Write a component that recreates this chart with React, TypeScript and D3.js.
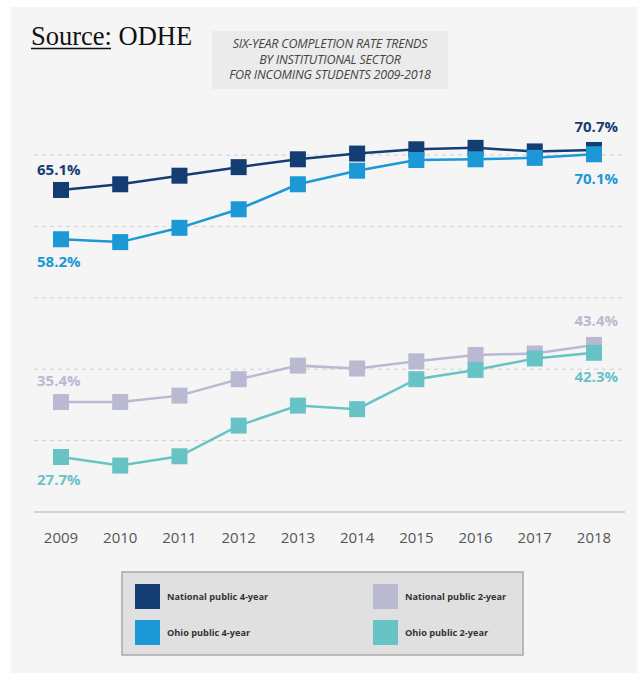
import React from "react";
import * as d3 from "d3";

const years = [2009, 2010, 2011, 2012, 2013, 2014, 2015, 2016, 2017, 2018];
const national4 = [65.1, 65.9, 67.1, 68.3, 69.4, 70.2, 70.8, 71.0, 70.5, 70.7];
const ohio4 = [58.2, 57.8, 59.8, 62.4, 65.9, 67.8, 69.3, 69.4, 69.6, 70.1];
const national2 = [35.4, 35.4, 36.3, 38.6, 40.5, 40.1, 41.1, 42.0, 42.2, 43.4];
const ohio2 = [27.7, 26.5, 27.8, 32.1, 34.9, 34.4, 38.6, 39.9, 41.5, 42.3];
const gridTicks = [30, 40, 50, 60, 70];
const titleLines = [
  "SIX-YEAR COMPLETION RATE TRENDS",
  "BY INSTITUTIONAL SECTOR",
  "FOR INCOMING STUDENTS 2009-2018",
];

const series = [
  { name: "National public 4-year", values: national4, color: "#143d73", startDy: -20, endDy: -23 },
  { name: "Ohio public 4-year", values: ohio4, color: "#1b98d5", startDy: 23, endDy: 25 },
  { name: "National public 2-year", values: national2, color: "#b9b9d1", startDy: -21, endDy: -24 },
  { name: "Ohio public 2-year", values: ohio2, color: "#68c3c6", startDy: 23, endDy: 24 },
];
const legendOrder = [
  [series[0], series[1]],
  [series[2], series[3]],
];

const W = 637;
const H = 673;
const sans = "'Open Sans', 'Noto Sans', sans-serif";

export default function App() {
  const x = d3.scalePoint<number>().domain(years).range([61, 594]);
  const y = d3.scaleLinear().domain([20, 70]).range([512, 155]);
  const line = d3
    .line<number>()
    .x((_, i) => x(years[i])!)
    .y((d) => y(d));
  const sq = 16;

  return (
    <svg
      width={W}
      height={H}
      style={{ position: "absolute", left: 0, top: 0, display: "block" }}
    >
      <rect x={0} y={0} width={W} height={H} fill="#ffffff" />
      <rect x={11} y={7} width={W - 11} height={H - 7} fill="#f5f5f5" />

      {/* source */}
      <text x={31} y={45} fontFamily="'Liberation Serif', 'Times New Roman', serif" fontSize={26.5} fill="#111">
        Source: ODHE
      </text>
      <line x1={31} x2={111} y1={48.5} y2={48.5} stroke="#111" strokeWidth={1.4} />

      {/* title box */}
      <rect x={212} y={31} width={236} height={58} fill="#ebebeb" />
      {titleLines.map((t, i) => (
        <text
          key={t}
          x={330}
          y={48 + i * 15.5}
          textAnchor="middle"
          fontFamily={sans}
          fontStyle="italic"
          fontSize={12.5}
          letterSpacing={-0.2}
          fill="#444"
        >
          {t}
        </text>
      ))}

      {/* grid */}
      {gridTicks.map((t) => (
        <line
          key={t}
          x1={34}
          x2={625}
          y1={y(t)}
          y2={y(t)}
          stroke="#d0d0d0"
          strokeWidth={1}
          strokeDasharray="4,4"
        />
      ))}
      <line x1={34} x2={625} y1={y(20)} y2={y(20)} stroke="#c6c6c6" strokeWidth={1.3} />

      {/* x labels */}
      {years.map((yr) => (
        <text
          key={yr}
          x={x(yr)}
          y={543}
          textAnchor="middle"
          fontFamily={sans}
          fontSize={15}
          fill="#555"
        >
          {yr}
        </text>
      ))}

      {/* lines */}
      {series.map((s) => (
        <g key={s.name}>
          <path d={line(s.values)!} fill="none" stroke={s.color} strokeWidth={2.5} />
          {s.values.map((v, i) => (
            <rect
              key={i}
              x={x(years[i])! - sq / 2}
              y={y(v) - sq / 2}
              width={sq}
              height={sq}
              fill={s.color}
            />
          ))}
          <text
            x={37}
            y={y(s.values[0]) + s.startDy + 5}
            fontFamily={sans}
            fontWeight="bold"
            fontSize={15}
            fill={s.color}
          >
            {s.values[0].toFixed(1)}%
          </text>
          <text
            x={618}
            y={y(s.values[s.values.length - 1]) + s.endDy + 5}
            textAnchor="end"
            fontFamily={sans}
            fontWeight="bold"
            fontSize={15}
            fill={s.color}
          >
            {s.values[s.values.length - 1].toFixed(1)}%
          </text>
        </g>
      ))}

      {/* legend */}
      <rect x={122} y={572} width={401} height={83} fill="#e0e0e0" stroke="#a8a8a8" strokeWidth={1.5} />
      {legendOrder.map((col, ci) =>
        col.map((s, ri) => (
          <g key={s.name} transform={`translate(${ci === 0 ? 135 : 373},${584 + ri * 36})`}>
            <rect width={25} height={25} fill={s.color} />
            <text
              x={32}
              y={16}
              fontFamily={sans}
              fontWeight="bold"
              fontSize={9.2}
              fill="#333"
            >
              {s.name}
            </text>
          </g>
        ))
      )}
    </svg>
  );
}
